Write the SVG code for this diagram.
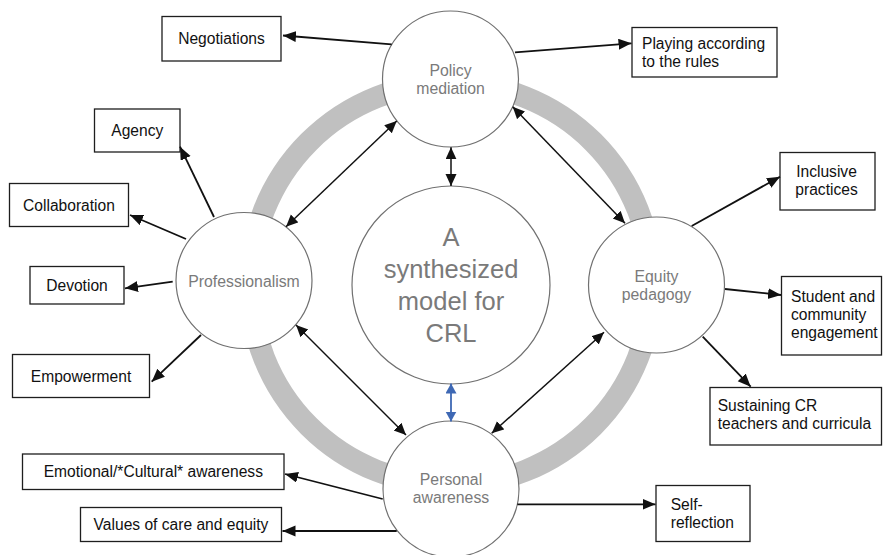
<svg xmlns="http://www.w3.org/2000/svg" width="883" height="555" viewBox="0 0 883 555">
  <style>
    .ring { fill: none; stroke: #c0c0c0; stroke-width: 22; }
    .node circle { fill: #ffffff; stroke: #707070; stroke-width: 1.2; }
    .node text { font-family: "Liberation Sans", Arial, sans-serif; font-size: 15.8px; fill: #7a7a7a; text-anchor: middle; }
    .node text.big { font-size: 25.5px; }
    .box rect { fill: #ffffff; stroke: #1e1e1e; stroke-width: 1.3; }
    .box text { font-family: "Liberation Sans", Arial, sans-serif; font-size: 15.6px; fill: #111111; }
    .box text.c { text-anchor: middle; }
    .link { stroke: #111111; stroke-width: 1.8; fill: none; marker-end: url(#head); }
    .both { stroke: #111111; stroke-width: 1.5; fill: none; marker-start: url(#head2); marker-end: url(#head2); }
    .blue { stroke: #3e68b4; stroke-width: 1.8; fill: none; marker-start: url(#headBlue); marker-end: url(#headBlue); }
  </style>
  <defs>
    <marker id="head" markerUnits="userSpaceOnUse" markerWidth="14" markerHeight="12" refX="13" refY="5.5" orient="auto">
      <path d="M0,0 L13,5.5 L0,11 z" fill="#111111"/>
    </marker>
    <marker id="head2" markerUnits="userSpaceOnUse" markerWidth="14" markerHeight="12" refX="12" refY="5.5" orient="auto-start-reverse">
      <path d="M0,0 L12,5.5 L0,11 z" fill="#111111"/>
    </marker>
    <marker id="headBlue" markerUnits="userSpaceOnUse" markerWidth="12" markerHeight="12" refX="10" refY="5.5" orient="auto-start-reverse">
      <path d="M0,0 L10,5.5 L0,11 z" fill="#3e68b4"/>
    </marker>
  </defs>

  <!-- gray ring joining the four outer themes -->
  <circle class="ring" cx="451" cy="284" r="201"/>

  <!-- central model and four theme circles -->
  <g id="node-center" class="node">
    <circle cx="451" cy="285" r="99"/>
    <text class="big" x="451" y="245.7">A</text>
    <text class="big" x="451" y="277.7">synthesized</text>
    <text class="big" x="451" y="309.7">model for</text>
    <text class="big" x="451" y="341.7">CRL</text>
  </g>
  <g id="node-policy" class="node">
    <circle cx="450.5" cy="79" r="68"/>
    <text x="450.5" y="76">Policy</text>
    <text x="450.5" y="93.5">mediation</text>
  </g>
  <g id="node-professionalism" class="node">
    <circle cx="244" cy="280.5" r="68"/>
    <text x="244" y="286.5">Professionalism</text>
  </g>
  <g id="node-equity" class="node">
    <circle cx="656.5" cy="285" r="68"/>
    <text x="656.5" y="281.7">Equity</text>
    <text x="656.5" y="299.5">pedagogy</text>
  </g>
  <g id="node-personal" class="node">
    <circle cx="451" cy="489" r="68"/>
    <text x="451" y="485">Personal</text>
    <text x="451" y="503">awareness</text>
  </g>

  <!-- outcome boxes -->
  <g id="box-negotiations" class="box">
    <rect x="162" y="16.5" width="119" height="44.5"/>
    <text class="c" x="221.5" y="44.3">Negotiations</text>
  </g>
  <g id="box-playing" class="box">
    <rect x="632" y="27.5" width="145" height="49.5"/>
    <text x="642" y="49.3">Playing according</text>
    <text x="642" y="67">to the rules</text>
  </g>
  <g id="box-agency" class="box">
    <rect x="94.5" y="109" width="85.5" height="43"/>
    <text class="c" x="137.3" y="136">Agency</text>
  </g>
  <g id="box-collaboration" class="box">
    <rect x="9.5" y="183.5" width="119" height="43"/>
    <text class="c" x="69" y="210.5">Collaboration</text>
  </g>
  <g id="box-devotion" class="box">
    <rect x="30" y="266.5" width="94" height="37.5"/>
    <text class="c" x="77" y="290.7">Devotion</text>
  </g>
  <g id="box-empowerment" class="box">
    <rect x="12.5" y="354.5" width="137" height="43"/>
    <text class="c" x="81" y="381.7">Empowerment</text>
  </g>
  <g id="box-inclusive" class="box">
    <rect x="780" y="152.5" width="95" height="57.5"/>
    <text class="c" x="826.5" y="177.3">Inclusive</text>
    <text class="c" x="826.5" y="195">practices</text>
  </g>
  <g id="box-student" class="box">
    <rect x="781.5" y="276.5" width="100" height="78.5"/>
    <text x="791" y="301.7">Student and</text>
    <text x="791" y="319.7">community</text>
    <text x="791" y="337.7">engagement</text>
  </g>
  <g id="box-sustaining" class="box">
    <rect x="710" y="387.5" width="171.5" height="57.5"/>
    <text x="717.7" y="410.7">Sustaining CR</text>
    <text x="717.7" y="429.3">teachers and curricula</text>
  </g>
  <g id="box-emotional" class="box">
    <rect x="22.5" y="454" width="261.5" height="35.5"/>
    <text class="c" x="153.3" y="476.7">Emotional/*Cultural* awareness</text>
  </g>
  <g id="box-values" class="box">
    <rect x="80.5" y="507.5" width="201" height="34"/>
    <text class="c" x="181" y="530">Values of care and equity</text>
  </g>
  <g id="box-self" class="box">
    <rect x="656" y="485.5" width="94" height="56"/>
    <text x="670.7" y="510">Self-</text>
    <text x="670.7" y="527.7">reflection</text>
  </g>

  <!-- connectors -->
  <g id="connectors">
    <!-- theme to outcome -->
    <line class="link" x1="391.7" y1="44.3" x2="283" y2="35.5"/>
    <line class="link" x1="515" y1="52.3" x2="631.5" y2="43.3"/>
    <line class="link" x1="214" y1="217" x2="180" y2="146.7"/>
    <line class="link" x1="186" y1="239" x2="130" y2="215"/>
    <line class="link" x1="172.7" y1="281.7" x2="125" y2="288.3"/>
    <line class="link" x1="201" y1="335" x2="151.7" y2="381.7"/>
    <line class="link" x1="691.7" y1="226" x2="780" y2="176.7"/>
    <line class="link" x1="725" y1="289" x2="781" y2="295"/>
    <line class="link" x1="702.7" y1="336.7" x2="750.7" y2="386.7"/>
    <line class="link" x1="382.7" y1="499" x2="285" y2="474"/>
    <line class="link" x1="396.7" y1="531" x2="282.5" y2="531"/>
    <line class="link" x1="517.3" y1="504.3" x2="655.5" y2="504.3"/>
    <!-- links between themes -->
    <line class="both" x1="396.7" y1="121" x2="286" y2="226.7"/>
    <line class="both" x1="512.7" y1="106.7" x2="625" y2="223.3"/>
    <line class="both" x1="296" y1="325" x2="406" y2="435"/>
    <line class="both" x1="604" y1="332.3" x2="491.7" y2="433.3"/>
    <line class="both" x1="451" y1="147.3" x2="451" y2="186"/>
    <line class="blue" x1="451" y1="383.5" x2="451" y2="421.5"/>
  </g>
</svg>
